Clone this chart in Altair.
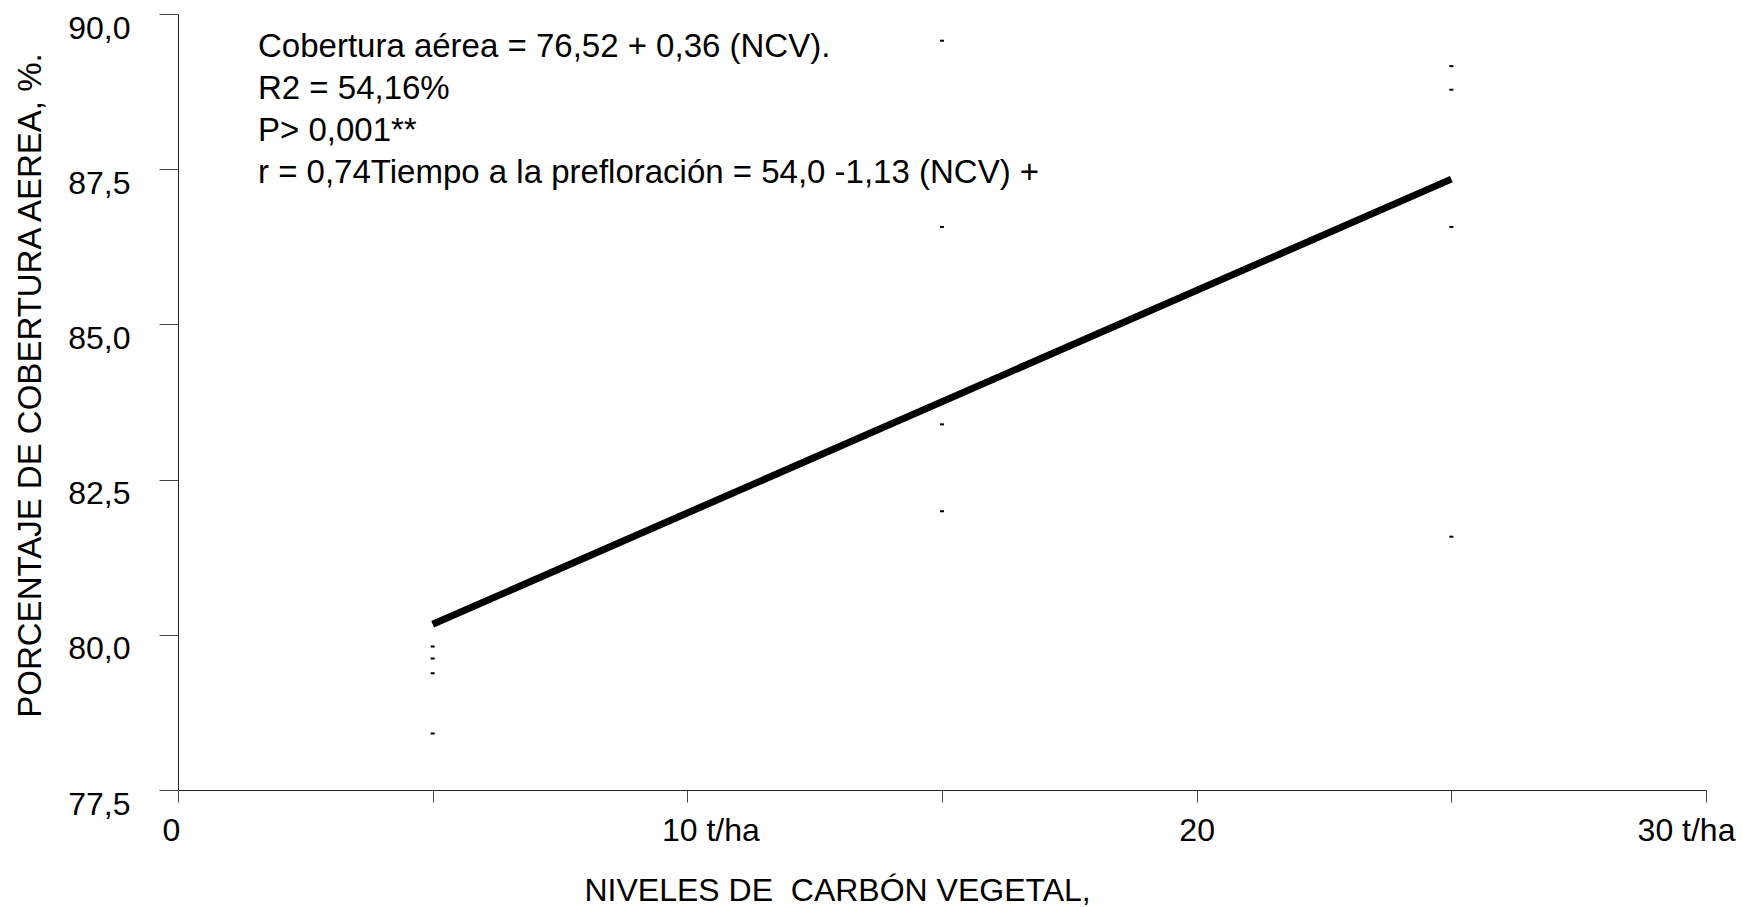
import altair as alt
import pandas as pd

# Doses of biochar (t/ha) and the canopy-cover readings at each dose
dose = [5, 5, 5, 5, 15, 15, 15, 15, 25, 25, 25, 25]
cobertura = [79.81, 79.62, 79.38, 78.41,
             89.57, 86.57, 83.39, 81.99,
             89.16, 88.78, 86.57, 81.58]

# Fitted regression line, evaluated at the first and last dose
fit_dose = [5, 25]
fit_cobertura = [80.17, 87.34]

# Axis ticks and their printed labels
x_ticks = [0, 5, 10, 15, 20, 25, 30]
x_tick_labels = ["0", "", "10 t/ha", "", "20", "", "30 t/ha"]
y_ticks = [77.5, 80.0, 82.5, 85.0, 87.5, 90.0]
y_tick_labels = ["77,5", "80,0", "82,5", "85,0", "87,5", "90,0"]

note_lines = [
    "Cobertura aérea = 76,52 + 0,36 (NCV).",
    "R2 = 54,16%",
    "P> 0,001**",
    "r = 0,74Tiempo a la prefloración = 54,0 -1,13 (NCV) +",
]

FONT = "Liberation Sans"


def label_expr(values, labels):
    expr = "''"
    for v, lab in reversed(list(zip(values, labels))):
        expr = f"datum.value == {v} ? '{lab}' : ({expr})"
    return expr


obs = pd.DataFrame({"dose": dose, "cobertura": cobertura})
fit = pd.DataFrame({"dose": fit_dose, "cobertura": fit_cobertura})
note = pd.DataFrame({"note": ["\n".join(note_lines)]})

x_shift = {0: -7, 10: 23, 30: -20}

x_scale = alt.Scale(domain=[0, 30], nice=False, zero=False)
y_scale = alt.Scale(domain=[77.5, 90], nice=False, zero=False)

x_axis = alt.Axis(
    values=x_ticks,
    labelExpr=label_expr(x_ticks, x_tick_labels),
    title="NIVELES DE \u00a0CARBÓN VEGETAL,",
    titleX=406,
    titleY=110,
    titleAlign="left",
    titleBaseline="alphabetic",
    titleFont=FONT,
    titleFontSize=32,
    titleFontWeight="normal",
    titleColor="black",
    labelFont=FONT,
    labelFontSize=32,
    labelColor="black",
    labelPadding=13,
    labelFlush=False,
    labelOverlap=False,
    labelOffset={
        "condition": [{"test": f"datum.value == {v}", "value": d} for v, d in x_shift.items()],
        "value": 0,
    },
    tickSize=12,
    tickColor="#444",
    domainColor="#222",
    grid=False,
)

y_axis = alt.Axis(
    values=y_ticks,
    labelExpr=label_expr(y_ticks, y_tick_labels),
    title="PORCENTAJE DE COBERTURA AEREA, %.",
    titleX=-138,
    titleY=371,
    titleAngle=270,
    titleAlign="center",
    titleBaseline="alphabetic",
    titleFont=FONT,
    titleFontSize=33,
    titleFontWeight="normal",
    titleColor="black",
    labelFont=FONT,
    labelFontSize=32,
    labelColor="black",
    labelPadding=29,
    labelOffset=14,
    labelOverlap=False,
    labelFlush=False,
    tickSize=19,
    tickColor="#444",
    domainColor="#222",
    grid=False,
)

points = alt.Chart(obs).mark_tick(
    orient="horizontal", size=4, thickness=2, color="black", opacity=1
).encode(
    x=alt.X("dose:Q", scale=x_scale, axis=x_axis),
    y=alt.Y("cobertura:Q", scale=y_scale, axis=y_axis),
)

line = alt.Chart(fit).mark_line(color="black", strokeWidth=7).encode(
    x=alt.X("dose:Q", scale=x_scale),
    y=alt.Y("cobertura:Q", scale=y_scale),
)

text = alt.Chart(note).mark_text(
    align="left",
    baseline="alphabetic",
    font=FONT,
    fontSize=33,
    lineBreak="\n",
    lineHeight=42,
    color="black",
).encode(
    x=alt.value(80),
    y=alt.value(43),
    text="note:N",
)

chart = (
    alt.layer(line, points, text)
    .properties(
        width=1528,
        height=776,
        autosize=alt.AutoSizeParams(type="none"),
        padding={"left": 178, "top": 14, "right": 37, "bottom": 117},
        background="white",
    )
    .configure_view(stroke=None)
)

chart.save("out.html", embed_options={"renderer": "svg", "actions": False})
